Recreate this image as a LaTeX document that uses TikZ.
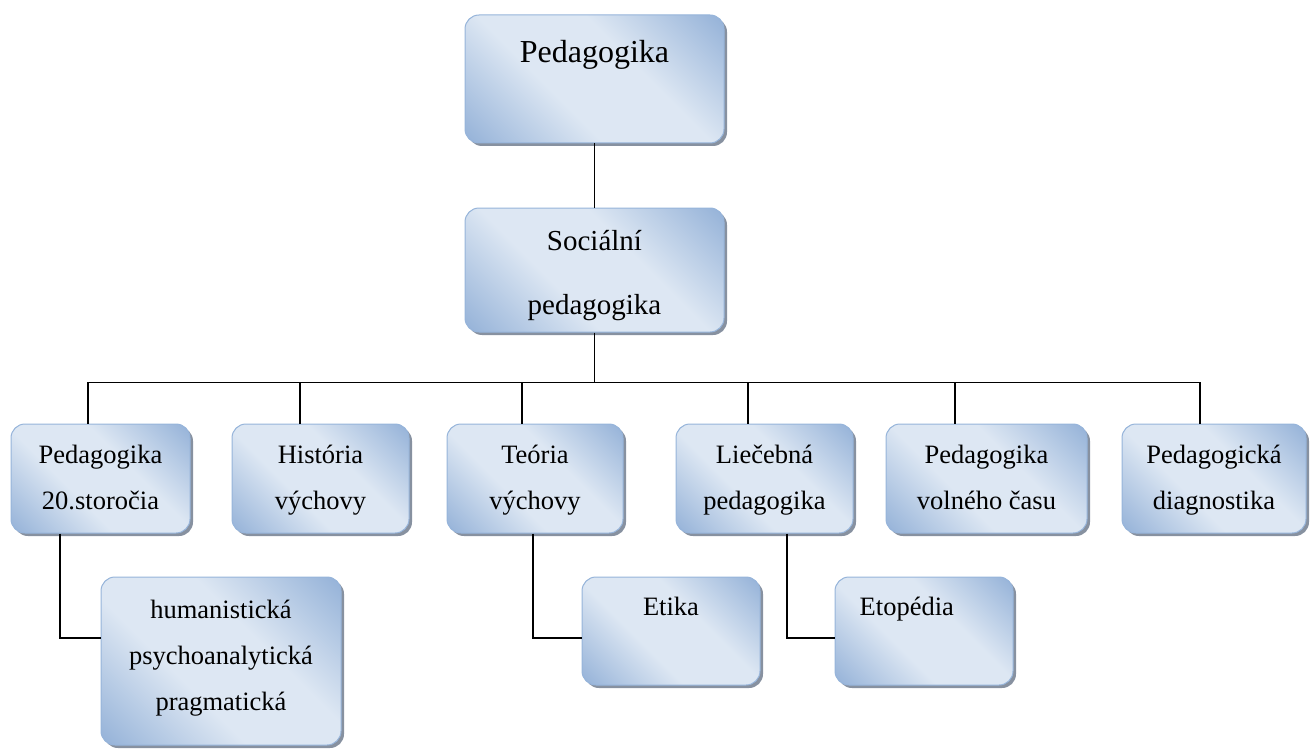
\documentclass[tikz,border=0pt]{standalone}
\usepackage{fontspec}
\setmainfont{Liberation Serif}
\usetikzlibrary{shadows, calc}
\definecolor{bdark}{RGB}{146,176,215}
\definecolor{blight}{RGB}{221,231,243}
\definecolor{bline}{RGB}{150,180,218}
\definecolor{bshadow}{RGB}{135,145,160}
\pgfdeclareverticalshading{blokshade}{100bp}{color(0bp)=(bdark); color(14bp)=(bdark); color(40bp)=(blight); color(60bp)=(blight); color(86bp)=(bdark); color(100bp)=(bdark)}
\tikzstyle{blok} = [
    rectangle,
    rounded corners=14pt,
    draw=bline,
    line width=1pt,
    shade,
    shading=blokshade,
    shading angle=-45,
    drop shadow={shadow xshift=3pt, shadow yshift=-3pt, fill=bshadow, opacity=1},
    inner sep=0pt
]
\tikzstyle{popis} = [
    anchor=north,
    align=center,
    inner sep=0pt,
    font=\fontsize{26.5}{46}\selectfont
]
\tikzstyle{spoj} = [line width=1.6pt, black]

\begin{document}
\begin{tikzpicture}[x=1pt, y=-1pt]
    \useasboundingbox (0,0) rectangle (1312,749);

    % Top levels
    \node (top) [blok, minimum width=259pt, minimum height=128pt] at (594.5,79) {};
    \node (soc) [blok, minimum width=259pt, minimum height=124pt] at (594.5,270) {};

    % Branches
    \node (c1) [blok, minimum width=179pt, minimum height=109pt] at (100.5,478.5) {};
    \node (c2) [blok, minimum width=177pt, minimum height=109pt] at (320.5,478.5) {};
    \node (c3) [blok, minimum width=176pt, minimum height=109pt] at (535,478.5) {};
    \node (c4) [blok, minimum width=177pt, minimum height=109pt] at (764.5,478.5) {};
    \node (c5) [blok, minimum width=201pt, minimum height=109pt] at (986.5,478.5) {};
    \node (c6) [blok, minimum width=184pt, minimum height=109pt] at (1214,478.5) {};

    % Sub-branches
    \node (hum) [blok, minimum width=240pt, minimum height=168pt] at (221,661) {};
    \node (etika) [blok, minimum width=178pt, minimum height=108pt] at (671,631) {};
    \node (etop) [blok, minimum width=178pt, minimum height=108pt] at (924,631) {};

    % Texts
    \node (t_top) [popis, font=\fontsize{32}{40}\selectfont] at ($(top.north)+(0,26)$) {Pedagogika};
    \node (t_soc) [popis, font=\fontsize{29}{64}\selectfont] at ($(soc.north)+(0,23)$) {Sociální\\pedagogika};
    \node (t_c1) [popis] at ($(c1.north)+(0,21)$) {Pedagogika\\20.storočia};
    \node (t_c2) [popis] at ($(c2.north)+(0,21)$) {História\\výchovy};
    \node (t_c3) [popis] at ($(c3.north)+(0,21)$) {Teória\\výchovy};
    \node (t_c4) [popis] at ($(c4.north)+(0,21)$) {Liečebná\\pedagogika};
    \node (t_c5) [popis] at ($(c5.north)+(0,21)$) {Pedagogika\\volného času};
    \node (t_c6) [popis] at ($(c6.north)+(0,21)$) {Pedagogická\\diagnostika};
    \node (t_hum) [popis] at ($(hum.north)+(0,23)$) {humanistická\\psychoanalytická\\pragmatická};
    \node (t_etika) [popis] at ($(etika.north)+(0,20)$) {Etika};
    \node (t_etop) [popis, anchor=north west] at ($(etop.north west)+(25,20)$) {Etopédia};

    % Connection points
    \coordinate (bus) at ($(soc.south)+(0,50)$);
    \coordinate (c1_top) at ($(c1.north)+(-12.5,0)$);
    \coordinate (c2_top) at ($(c2.north)+(-20.5,0)$);
    \coordinate (c3_top) at ($(c3.north)+(-13,0)$);
    \coordinate (c4_top) at ($(c4.north)+(-16.5,0)$);
    \coordinate (c5_top) at ($(c5.north)+(-31.5,0)$);
    \coordinate (c6_top) at ($(c6.north)+(-14,0)$);
    \coordinate (c1_bottom) at ($(c1.south)+(-40.5,0)$);
    \coordinate (c3_bottom) at ($(c3.south)+(-2,0)$);
    \coordinate (c4_bottom) at ($(c4.south)+(22.5,0)$);
    \coordinate (hum_in) at ($(hum.west)+(0,-23)$);
    \coordinate (etika_in) at ($(etika.west)+(0,7)$);
    \coordinate (etop_in) at ($(etop.west)+(0,7)$);

    % Connectors
    \draw [spoj] (top.south) -- (soc.north);
    \draw [spoj] (soc.south) -- (bus);
    \draw [spoj] (c1_top) |- (bus) -| (c6_top);
    \foreach \n in {c2,c3,c4,c5}
        \draw [spoj] (\n_top) -- (\n_top |- bus);
    \draw [spoj] (c1_bottom) |- (hum_in);
    \draw [spoj] (c3_bottom) |- (etika_in);
    \draw [spoj] (c4_bottom) |- (etop_in);
\end{tikzpicture}
\end{document}
